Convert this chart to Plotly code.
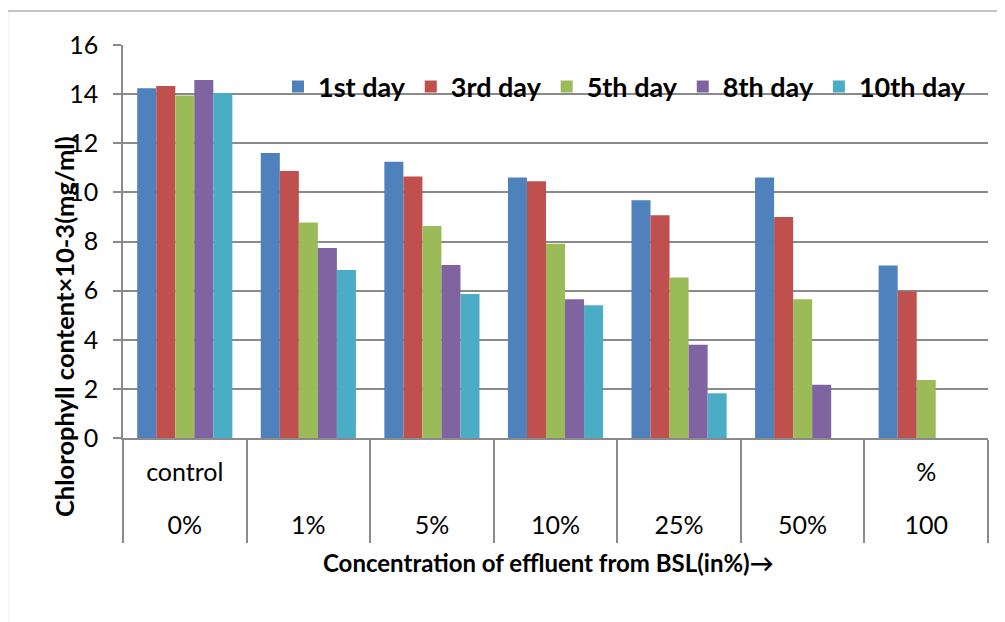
import plotly.graph_objects as go

# Data
conc_labels = ["0%", "1%", "5%", "10%", "25%", "50%", "100"]   # lower label row (categories)
upper_labels = ["control", "", "", "", "", "", "%"]          # upper label row
series_names = ["1st day", "3rd day", "5th day", "8th day", "10th day"]
day1 = [14.24, 11.60, 11.25, 10.61, 9.68, 10.61, 7.02]
day3 = [14.33, 10.87, 10.65, 10.45, 9.07, 9.00, 5.97]
day5 = [13.94, 8.77, 8.63, 7.91, 6.53, 5.65, 2.36]
day8 = [14.58, 7.74, 7.04, 5.65, 3.80, 2.17, 0]
day10 = [14.05, 6.84, 5.86, 5.40, 1.82, 0, 0]
colors = ["#4F81BD", "#C0504D", "#9BBB59", "#8064A2", "#4BACC6"]

FONT = "Lato"
GRID = "#8a8a8a"

# plot area in page pixels (page has an 8px body margin)
PX_L, PX_R, PX_T, PX_B = 123, 988, 45, 438
OFF = 8
def px(xp):
    return (xp - PX_L) / (PX_R - PX_L)
def py(yp):
    return (PX_B - yp) / (PX_B - PX_T)

fig = go.Figure()
for name, vals, col in zip(series_names, [day1, day3, day5, day8, day10], colors):
    fig.add_trace(go.Bar(
        x=conc_labels, y=vals, name=name,
        marker=dict(color=col, line=dict(width=0)),
    ))

n = len(conc_labels)
fig.update_layout(
    width=1005, height=622,
    margin=dict(l=PX_L - OFF, r=1005 - (PX_R - OFF), t=PX_T - OFF, b=622 - (PX_B - OFF)),
    paper_bgcolor="white", plot_bgcolor="white",
    barmode="group", bargap=0.23, bargroupgap=0,
    font=dict(family=FONT, color="black"),
    showlegend=True,
    legend=dict(
        orientation="h", x=px(278), y=py(87), xanchor="left", yanchor="middle",
        font=dict(family=FONT, size=27, color="black", weight="bold"),
        bgcolor="rgba(0,0,0,0)",
        traceorder="normal",
    ),
    xaxis=dict(
        type="category", categoryorder="array", categoryarray=conc_labels,
        tickmode="array", tickvals=conc_labels, ticktext=upper_labels,
        showline=True, linecolor=GRID, linewidth=1.5,
        ticks="outside", tickson="boundaries", ticklen=103,
        tickcolor=GRID, tickwidth=1.5,
        tickfont=dict(family=FONT, size=25, color="black"),
        ticklabelstandoff=11,
        showgrid=False, automargin=False,
    ),
    xaxis2=dict(
        overlaying="x", anchor="y", side="bottom", type="linear",
        range=[-0.5, n - 0.5], tickmode="array",
        tickvals=list(range(n)), ticktext=conc_labels,
        ticks="", showline=False, showgrid=False, zeroline=False,
        tickfont=dict(family=FONT, size=25, color="black"),
        ticklabelstandoff=70, automargin=False,
    ),
    yaxis=dict(
        range=[0, 16], dtick=2, showgrid=True, gridcolor=GRID, gridwidth=1.5,
        showline=True, linecolor=GRID, linewidth=1.5,
        ticks="outside", ticklen=8, tickcolor=GRID, tickwidth=1.5,
        tickfont=dict(family=FONT, size=25, color="black"),
        zeroline=False, ticklabelstandoff=10, automargin=False,
    ),
)

# empty helper trace so the second x axis (lower label row) is drawn
fig.add_trace(go.Scatter(x=[], y=[], xaxis="x2", yaxis="y", showlegend=False,
                         hoverinfo="skip"))

fig.add_annotation(
    text="Chlorophyll content×10-3(mg/ml)", textangle=-90,
    xref="paper", yref="paper", x=px(64), y=py(327),
    xanchor="center", yanchor="middle", showarrow=False,
    font=dict(family=FONT, size=25.5, color="black", weight="bold"),
)
fig.add_annotation(
    text="Concentration of effluent from BSL(in%)→",
    xref="paper", yref="paper", x=px(548), y=py(562),
    xanchor="center", yanchor="middle", showarrow=False,
    font=dict(family=FONT, size=24, color="black", weight="bold"),
)
# outer chart frame (only left and top edges visible in the crop)
fig.add_shape(
    type="rect", xref="paper", yref="paper",
    x0=px(7.5), x1=px(1020), y0=py(640), y1=py(11),
    line=dict(color=GRID, width=1.2), fillcolor="rgba(0,0,0,0)", layer="below",
)

fig.write_html("out.html")
